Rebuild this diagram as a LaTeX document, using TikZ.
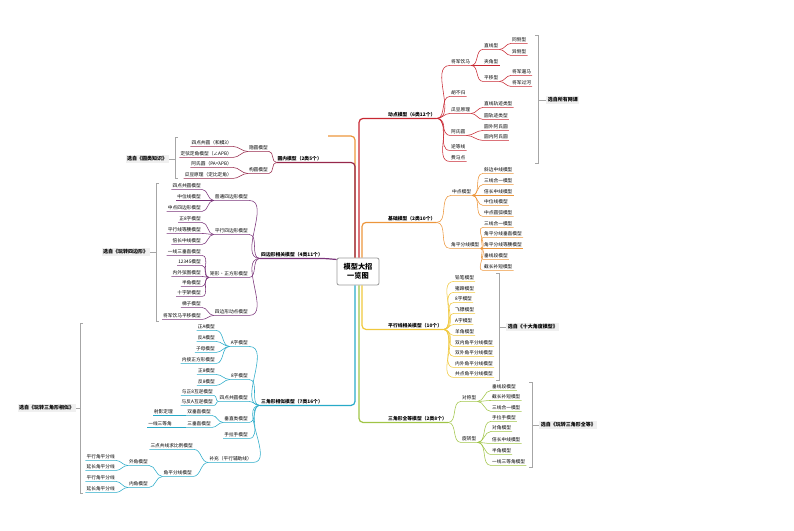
\documentclass[tikz,border=0pt]{standalone}
\usepackage{fontspec}
\setmainfont{Noto Sans CJK SC}
\usetikzlibrary{positioning}
\definecolor{dongred}{RGB}{200,40,50}
\definecolor{yuanred}{RGB}{150,40,75}
\definecolor{jichuorange}{RGB}{236,150,60}
\definecolor{pingyellow}{RGB}{240,200,60}
\definecolor{quangreen}{RGB}{160,196,70}
\definecolor{xiangteal}{RGB}{40,170,200}
\definecolor{sibianpurple}{RGB}{122,52,122}
\newcommand{\mmfont}{\fontsize{4.7}{5.6}\selectfont}
\newcommand{\mmbold}{\fontsize{4.8}{5.6}\selectfont\bfseries}

\begin{document}
\begin{tikzpicture}[x=1pt,y=-1pt,
    lf/.style={inner sep=1pt,font=\mmfont,text height=3.6pt,text depth=0.9pt},
    mn/.style={lf,font=\mmbold},
    src/.style={inner sep=1.6pt,fill=gray!12,font=\fontsize{5}{6}\selectfont\bfseries},
    ln/.style={line width=0.55pt},
    trunk/.style={line width=1.2pt,rounded corners=4pt},
    brk/.style={draw=gray!70,line width=0.6pt}]
\useasboundingbox (0,0) rectangle (794,530);

% Nodo centrale
\node[draw=gray!80,line width=0.8pt,rounded corners=2pt,fill=white,align=center,
      minimum width=42pt,minimum height=27pt,inner sep=1pt,
      font=\fontsize{7.2}{9.5}\selectfont\bfseries] (root) at (358,271.5) {模型大招\\一览图};

% Ramo destro: modelli dinamici
\node[mn,anchor=west] (dm) at (387,115) {动点模型（6类12个）};
\node[lf,anchor=west] (jjym) at (450,62) {将军饮马};
\node[lf,anchor=west] (zxx) at (483,46) {直线型};
\node[lf,anchor=west] (tcx) at (511,40) {同侧型};
\node[lf,anchor=west] (ycx) at (511,52) {异侧型};
\node[lf,anchor=west] (jjx) at (483,62) {夹角型};
\node[lf,anchor=west] (pyx) at (483,78) {平移型};
\node[lf,anchor=west] (jjlm) at (511,72) {将军遛马};
\node[lf,anchor=west] (jjgh) at (511,83) {将军过河};
\node[lf,anchor=west] (hbg) at (450,93) {胡不归};
\node[lf,anchor=west] (gdyl) at (450,110) {瓜豆原理};
\node[lf,anchor=west] (zxgj) at (483,104) {直线轨迹类型};
\node[lf,anchor=west] (ygj) at (483,116) {圆轨迹类型};
\node[lf,anchor=west] (ashy) at (450,132) {阿氏圆};
\node[lf,anchor=west] (ywas) at (483,127) {圆外阿氏圆};
\node[lf,anchor=west] (ynas) at (483,137) {圆内阿氏圆};
\node[lf,anchor=west] (ndx) at (450,147) {逆等线};
\node[lf,anchor=west] (fmd) at (450,158) {费马点};

\draw[trunk,dongred] ([xshift=1pt]root.north) |- (dm.south west) -- (dm.south east);
\foreach \c in {jjym,hbg,gdyl,ashy,ndx,fmd}
  \draw[ln,dongred] (dm.south east) to[out=0,in=180] (\c.south west) -- (\c.south east);
\foreach \p/\c in {jjym/zxx,jjym/jjx,jjym/pyx,zxx/tcx,zxx/ycx,pyx/jjlm,pyx/jjgh,gdyl/zxgj,gdyl/ygj,ashy/ywas,ashy/ynas}
  \draw[ln,dongred] (\p.south east) to[out=0,in=180] (\c.south west) -- (\c.south east);

% Ramo destro: modelli di base
\node[mn,anchor=west] (jc) at (387,219) {基础模型（2类10个）};
\node[lf,anchor=west] (zdmx) at (451,192) {中点模型};
\foreach \n/\y/\t in {zd1/170/斜边中线模型,zd2/181/三线合一模型,zd3/192/倍长中线模型,zd4/202/中位线模型,zd5/213/中点圆弧模型}
  \node[lf,anchor=west] (\n) at (483,\y) {\t};
\node[lf,anchor=west] (jpmx) at (450,245) {角平分线模型};
\foreach \n/\y/\t in {jp1/224/三线合一模型,jp2/234/角平分线垂直模型,jp3/245/角平分线等腰模型,jp4/256/垂线段模型,jp5/267/截长补短模型}
  \node[lf,anchor=west] (\n) at (483,\y) {\t};

\draw[trunk,jichuorange] ([xshift=4pt]root.north) |- (jc.south west) -- (jc.south east);
\foreach \c in {zdmx,jpmx}
  \draw[ln,jichuorange] (jc.south east) to[out=0,in=180] (\c.south west) -- (\c.south east);
\foreach \c in {zd1,zd2,zd3,zd4,zd5}
  \draw[ln,jichuorange] (zdmx.south east) to[out=0,in=180] (\c.south west) -- (\c.south east);
\foreach \c in {jp1,jp2,jp3,jp4,jp5}
  \draw[ln,jichuorange] (jpmx.south east) to[out=0,in=180] (\c.south west) -- (\c.south east);

% Ramo destro: rette parallele
\node[mn,anchor=west] (pxx) at (387,326) {平行线相关模型（10个）};
\foreach \n/\y/\t in {px1/278/铅笔模型,px2/289/猪蹄模型,px3/299/8字模型,px4/310/飞镖模型,px5/321/A字模型,
    px6/332/羊角模型,px7/343/双内角平分线模型,px8/353/双外角平分线模型,px9/364/内外角平分线模型,px10/374/共点角平分线模型}
  \node[lf,anchor=west] (\n) at (454,\y) {\t};

\draw[trunk,pingyellow] ([xshift=4pt]root.south) |- (pxx.south west) -- (pxx.south east);
\foreach \c in {px1,px2,px3,px4,px5,px6,px7,px8,px9,px10}
  \draw[ln,pingyellow] (pxx.south east) to[out=0,in=180] (\c.south west) -- (\c.south east);

% Ramo destro: triangoli congruenti
\node[mn,anchor=west] (qd) at (387,419) {三角形全等模型（2类8个）};
\node[lf,anchor=west] (dcx) at (461,398) {对称型};
\foreach \n/\y/\t in {dc1/387/垂线段模型,dc2/397/截长补短模型,dc3/408/三线合一模型}
  \node[lf,anchor=west] (\n) at (491,\y) {\t};
\node[lf,anchor=west] (xzx) at (461,439) {旋转型};
\foreach \n/\y/\t in {xz1/418/手拉手模型,xz2/428/对角模型,xz3/440/倍长中线模型,xz4/451/半角模型,xz5/462/一线三等角模型}
  \node[lf,anchor=west] (\n) at (491,\y) {\t};

\draw[trunk,quangreen] ([xshift=1pt]root.south) |- (qd.south west) -- (qd.south east);
\foreach \c in {dcx,xzx}
  \draw[ln,quangreen] (qd.south east) to[out=0,in=180] (\c.south west) -- (\c.south east);
\foreach \c in {dc1,dc2,dc3}
  \draw[ln,quangreen] (dcx.south east) to[out=0,in=180] (\c.south west) -- (\c.south east);
\foreach \c in {xz1,xz2,xz3,xz4,xz5}
  \draw[ln,quangreen] (xzx.south east) to[out=0,in=180] (\c.south west) -- (\c.south east);

% Ramo sinistro: cerchi
\node[mn,anchor=east] (yn) at (323,159) {圆内模型（2类5个）};
\node[lf,anchor=east] (yymx) at (269,148) {隐圆模型};
\node[lf,anchor=east] (yy1) at (233,143) {四点共圆（和模3）};
\node[lf,anchor=east] (yy2) at (233,154) {定弦定角模型（∠APB）};
\node[lf,anchor=east] (gymx) at (269,170) {构圆模型};
\node[lf,anchor=east] (gy1) at (233,164) {阿氏圆（PA=λPB）};
\node[lf,anchor=east] (gy2) at (233,175) {瓜豆原理（定比定角）};

% tratto arancione libero sopra il ramo dei cerchi
\coordinate (stub) at (328,136);
\draw[trunk,jichuorange] ([xshift=-3pt]root.north) |- (stub);
\draw[trunk,yuanred] ([xshift=-3pt]root.north) |- (yn.south east) -- (yn.south west);
\foreach \c in {yymx,gymx}
  \draw[ln,yuanred] (yn.south west) to[out=180,in=0] (\c.south east) -- (\c.south west);
\foreach \p/\c in {yymx/yy1,yymx/yy2,gymx/gy1,gymx/gy2}
  \draw[ln,yuanred] (\p.south west) to[out=180,in=0] (\c.south east) -- (\c.south west);

% Ramo sinistro: quadrilateri
\node[mn,anchor=east] (sbx) at (324,255) {四边形相关模型（4类11个）};
\node[lf,anchor=east] (ptsb) at (249,197) {普通四边形模型};
\foreach \n/\y/\t in {pt1/186/四点共圆模型,pt2/197/中位线模型,pt3/208/中点四边形模型}
  \node[lf,anchor=east] (\n) at (202,\y) {\t};
\node[lf,anchor=east] (pxsb) at (249,231) {平行四边形模型};
\foreach \n/\y/\t in {pb1/219/正8字模型,pb2/230/平行线等腰模型,pb3/241/倍长中线模型}
  \node[lf,anchor=east] (\n) at (202,\y) {\t};
\node[lf,anchor=east] (jxzf) at (249,274) {矩形·正方形模型};
\foreach \n/\y/\t in {jz1/252/一线三垂直模型,jz2/262/12345模型,jz3/273/内外弦图模型,jz4/283/半角模型,jz5/293/十字架模型}
  \node[lf,anchor=east] (\n) at (202,\y) {\t};
\node[lf,anchor=east] (sbdd) at (249,312) {四边形动点模型};
\foreach \n/\y/\t in {sd1/304/梯子模型,sd2/316/将军饮马平移模型}
  \node[lf,anchor=east] (\n) at (202,\y) {\t};

\draw[trunk,sibianpurple] (sbx.south west) -- (sbx.south east) -- ([yshift=-1pt]root.west |- sbx.south east);
\foreach \c in {ptsb,pxsb,jxzf,sbdd}
  \draw[ln,sibianpurple] (sbx.south west) to[out=180,in=0] (\c.south east) -- (\c.south west);
\foreach \p/\c in {ptsb/pt1,ptsb/pt2,ptsb/pt3,pxsb/pb1,pxsb/pb2,pxsb/pb3,jxzf/jz1,jxzf/jz2,jxzf/jz3,jxzf/jz4,jxzf/jz5,sbdd/sd1,sbdd/sd2}
  \draw[ln,sibianpurple] (\p.south west) to[out=180,in=0] (\c.south east) -- (\c.south west);

% Ramo sinistro: triangoli simili
\node[mn,anchor=east] (xs) at (324,402) {三角形相似模型（7类16个）};
\node[lf,anchor=east] (azx) at (249,343) {A字模型};
\foreach \n/\y/\t in {az1/327/正A模型,az2/338/反A模型,az3/349/子母模型,az4/360/内接正方形模型}
  \node[lf,anchor=east] (\n) at (216,\y) {\t};
\node[lf,anchor=east] (bzx) at (249,376) {8字模型};
\foreach \n/\y/\t in {bz1/371/正8模型,bz2/382/反8模型}
  \node[lf,anchor=east] (\n) at (216,\y) {\t};
\node[lf,anchor=east] (sdgy) at (249,398) {四点共圆模型};
\foreach \n/\y/\t in {sg1/392/与正8互逆模型,sg2/402/与反A互逆模型}
  \node[lf,anchor=east] (\n) at (214,\y) {\t};
\node[lf,anchor=east] (czl) at (249,419) {垂直类模型};
\node[lf,anchor=east] (scz) at (212,412) {双垂直模型};
\node[lf,anchor=east] (sydl) at (174,412) {射影定理};
\node[lf,anchor=east] (ssz) at (212,424) {三垂直模型};
\node[lf,anchor=east] (yxsd) at (173,424) {一线三等角};
\node[lf,anchor=east] (lsl) at (249,435) {手拉手模型};
\node[lf,anchor=east] (bcfz) at (253,459) {补充（平行辅助线）};
\node[lf,anchor=east] (sdgx) at (194,446) {三点共线求比例模型};
\node[lf,anchor=east] (jpfx) at (193,473) {角平分线模型};
\node[lf,anchor=east] (wjmx) at (149,462) {外角模型};
\node[lf,anchor=east] (wj1) at (116,457) {平行角平分线};
\node[lf,anchor=east] (wj2) at (116,467) {延长角平分线};
\node[lf,anchor=east] (njmx) at (149,484) {内角模型};
\node[lf,anchor=east] (nj1) at (116,478) {平行角平分线};
\node[lf,anchor=east] (nj2) at (116,489) {延长角平分线};

\draw[trunk,xiangteal] ([xshift=-3pt]root.south) |- (xs.south east) -- (xs.south west);
\foreach \c in {azx,bzx,sdgy,czl,lsl,bcfz}
  \draw[ln,xiangteal] (xs.south west) to[out=180,in=0] (\c.south east) -- (\c.south west);
\foreach \p/\c in {azx/az1,azx/az2,azx/az3,azx/az4,bzx/bz1,bzx/bz2,sdgy/sg1,sdgy/sg2,czl/scz,czl/ssz,
    bcfz/sdgx,bcfz/jpfx,jpfx/wjmx,jpfx/njmx,wjmx/wj1,wjmx/wj2,njmx/nj1,njmx/nj2}
  \draw[ln,xiangteal] (\p.south west) to[out=180,in=0] (\c.south east) -- (\c.south west);
\draw[ln,xiangteal] (scz.south west) -- (sydl.south east) -- (sydl.south west);
\draw[ln,xiangteal] (ssz.south west) -- (yxsd.south east) -- (yxsd.south west);

% Fonti (parentesi grigie)
\node[src,anchor=west] (src1) at (546,100) {选自所有网课};
\node[src,anchor=west] (src2) at (506,327) {选自《十大角度模型》};
\node[src,anchor=west] (src3) at (539,425) {选自《玩转三角形全等》};
\node[src,anchor=east] (src4) at (169,159) {选自《圆类知识》};
\node[src,anchor=east] (src5) at (150,252) {选自《玩转四边形》};
\node[src,anchor=east] (src6) at (76,408) {选自《玩转三角形相似》};

\foreach \bx/\ya/\yb/\s in {538/35/163/src1,499/273/380/src2,532/382/467/src3}{
  \coordinate (btop) at (\bx,\ya); \coordinate (bbot) at (\bx,\yb);
  \draw[brk] ([xshift=-3pt]btop) -- (btop) -- (bbot) -- ([xshift=-3pt]bbot);
  \draw[brk] (btop |- \s.west) -- (\s.west);
}
\foreach \bx/\ya/\yb/\s in {175/137/178/src4,156/183/321/src5,80/323/493/src6}{
  \coordinate (btop) at (\bx,\ya); \coordinate (bbot) at (\bx,\yb);
  \draw[brk] ([xshift=3pt]btop) -- (btop) -- (bbot) -- ([xshift=3pt]bbot);
  \draw[brk] (btop |- \s.east) -- (\s.east);
}
\end{tikzpicture}
\end{document}
